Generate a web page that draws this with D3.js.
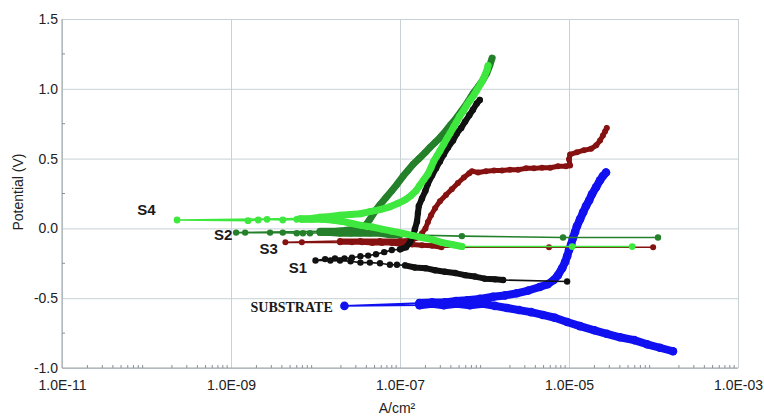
<!DOCTYPE html>
<html>
<head>
<meta charset="utf-8">
<script src="https://cdn.jsdelivr.net/npm/d3@7"></script>
<style>
    body { margin: 0; background: #fff; }
</style>
</head>
<body>
<svg id="chart" width="764" height="417"></svg>
<script>
// axis ticks
const xTicks = [1e-11, 1e-9, 1e-7, 1e-5, 1e-3];
const xTickLabels = ["1.0E-11", "1.0E-09", "1.0E-07", "1.0E-05", "1.0E-03"];
const yTicks = [-1.0, -0.5, 0.0, 0.5, 1.0, 1.5];
const yMinorTicks = [-0.75, -0.25, 0.25, 0.75, 1.25];

// each series: [current density A/cm2, potential V]
// tail = stray points at the start of the scan, tip = sparse points near Ecorr
const subCathodic = [[1.7e-4,-0.88],[1.19e-4,-0.855],[8.4e-5,-0.83],[5.9e-5,-0.80],[4.0e-5,-0.78],[2.8e-5,-0.755],[2.0e-5,-0.73],[1.35e-5,-0.70],[9.5e-6,-0.67],[6.8e-6,-0.64],[4.9e-6,-0.62],[3.55e-6,-0.60],[2.56e-6,-0.585],[1.85e-6,-0.57],[1.33e-6,-0.555],[9.6e-7,-0.54],[6.7e-7,-0.55],[4.7e-7,-0.54],[3.3e-7,-0.55],[2.4e-7,-0.54],[1.7e-7,-0.55]];
const subTip = [[2.2e-8,-0.555]];
const subAnodic = [[1.7e-7,-0.535],[2.4e-7,-0.53],[3.4e-7,-0.53],[4.6e-7,-0.52],[6.2e-7,-0.515],[8.8e-7,-0.505],[1.26e-6,-0.49],[1.75e-6,-0.48],[2.4e-6,-0.465],[3.3e-6,-0.445],[4.5e-6,-0.42],[5.6e-6,-0.40],[6.6e-6,-0.37],[7.4e-6,-0.335],[8.3e-6,-0.285],[9.0e-6,-0.24],[9.5e-6,-0.20],[1.0e-5,-0.155],[1.06e-5,-0.115],[1.11e-5,-0.07],[1.18e-5,-0.025],[1.24e-5,0.015],[1.35e-5,0.065],[1.47e-5,0.115],[1.59e-5,0.16],[1.73e-5,0.20],[1.87e-5,0.245],[2.09e-5,0.295],[2.33e-5,0.345],[2.52e-5,0.375],[2.74e-5,0.40]];

const s1Tail = [[9.5e-6,-0.38]];
const s1Cathodic = [[1.66e-6,-0.37],[1.33e-6,-0.365],[1.01e-6,-0.36],[7.7e-7,-0.345],[5.9e-7,-0.335],[4.5e-7,-0.32],[3.4e-7,-0.31],[2.6e-7,-0.30],[2.0e-7,-0.285],[1.5e-7,-0.28],[1.15e-7,-0.265]];
const s1Tip = [[9.2e-8,-0.26],[7.6e-8,-0.26],[5.8e-8,-0.25],[4.4e-8,-0.245],[3.4e-8,-0.245],[2.6e-8,-0.235],[1.95e-8,-0.23],[1.5e-8,-0.23],[1.0e-8,-0.23],[1.3e-8,-0.22],[1.7e-8,-0.215],[2.2e-8,-0.215],[2.7e-8,-0.21],[3.4e-8,-0.20],[4.2e-8,-0.195],[5.2e-8,-0.185],[6.5e-8,-0.17],[8.0e-8,-0.155]];
const s1Anodic = [[1.0e-7,-0.15],[1.18e-7,-0.135],[1.31e-7,-0.10],[1.43e-7,-0.055],[1.5e-7,-0.005],[1.59e-7,0.05],[1.63e-7,0.11],[1.67e-7,0.16],[1.82e-7,0.215],[2.0e-7,0.27],[2.14e-7,0.32],[2.4e-7,0.38],[2.67e-7,0.43],[2.97e-7,0.48],[3.3e-7,0.53],[3.7e-7,0.58],[4.24e-7,0.63],[4.7e-7,0.68],[5.3e-7,0.72],[5.9e-7,0.765],[6.6e-7,0.81],[7.3e-7,0.85],[8.1e-7,0.895],[8.8e-7,0.92]];

const s3Tail = [[9.9e-5,-0.135],[5.8e-6,-0.135]];
const s3Cathodic = [[3.1e-7,-0.135],[2.4e-7,-0.125],[1.82e-7,-0.12],[1.39e-7,-0.115],[1.06e-7,-0.115],[8.0e-8,-0.105],[6.1e-8,-0.105],[4.7e-8,-0.105],[3.55e-8,-0.10],[2.7e-8,-0.10],[1.95e-8,-0.10]];
const s3Tip = [[6.9e-9,-0.10],[4.4e-9,-0.10]];
const s3Anodic = [[1.95e-8,-0.09],[3.4e-8,-0.09],[5.8e-8,-0.09],[1.0e-7,-0.09],[1.39e-7,-0.085],[1.63e-7,-0.065],[1.82e-7,-0.035],[2.0e-7,0.0],[2.14e-7,0.045],[2.33e-7,0.095],[2.6e-7,0.145],[2.97e-7,0.195],[3.5e-7,0.24],[4.1e-7,0.28],[4.85e-7,0.325],[5.7e-7,0.365],[6.6e-7,0.395],[7.1e-7,0.41],[8.4e-7,0.40],[1.04e-6,0.41],[1.3e-6,0.415],[1.61e-6,0.415],[2.0e-6,0.42],[2.5e-6,0.42],[3.1e-6,0.43],[3.85e-6,0.43],[4.8e-6,0.435],[6.0e-6,0.435],[7.4e-6,0.445],[9.2e-6,0.445],[1.03e-5,0.45],[1.0e-5,0.495],[1.03e-5,0.53],[1.24e-5,0.545],[1.5e-5,0.56],[1.82e-5,0.57],[2.1e-5,0.595],[2.33e-5,0.63],[2.52e-5,0.665],[2.67e-5,0.695],[2.8e-5,0.72]];

const s2Tail = [[1.13e-4,-0.065],[8.5e-6,-0.065],[5.4e-7,-0.055]];
const s2Cathodic = [[1.0e-7,-0.045],[7.6e-8,-0.045],[5.8e-8,-0.035],[4.4e-8,-0.035],[3.4e-8,-0.035],[2.6e-8,-0.035],[1.95e-8,-0.035],[1.5e-8,-0.03],[1.13e-8,-0.03]];
const s2Tip = [[8.6e-9,-0.035],[7.1e-9,-0.035],[6.0e-9,-0.035],[4.1e-9,-0.03],[2.9e-9,-0.03],[1.47e-9,-0.03],[1.15e-9,-0.03]];
const s2Anodic = [[1.13e-8,-0.02],[1.7e-8,-0.02],[2.2e-8,-0.015],[2.9e-8,-0.005],[3.55e-8,0.0],[4.0e-8,0.03],[4.4e-8,0.065],[5.1e-8,0.125],[5.8e-8,0.17],[6.8e-8,0.22],[8.0e-8,0.27],[9.2e-8,0.315],[1.09e-7,0.375],[1.24e-7,0.415],[1.43e-7,0.46],[1.68e-7,0.50],[2.0e-7,0.545],[2.26e-7,0.58],[2.6e-7,0.615],[2.97e-7,0.65],[3.5e-7,0.70],[4.0e-7,0.745],[4.7e-7,0.795],[5.4e-7,0.845],[6.4e-7,0.91],[7.3e-7,0.965],[8.4e-7,1.015],[9.6e-7,1.065],[1.07e-6,1.115],[1.16e-6,1.17],[1.23e-6,1.22]];

const s4Tail = [[5.6e-5,-0.13],[1.09e-5,-0.13]];
const s4Cathodic = [[5.4e-7,-0.13],[4.1e-7,-0.115],[3.1e-7,-0.10],[2.4e-7,-0.08],[1.82e-7,-0.065],[1.39e-7,-0.05],[1.06e-7,-0.035],[8.0e-8,-0.02],[6.1e-8,-0.005],[4.7e-8,0.01],[3.55e-8,0.02],[2.7e-8,0.035],[2.06e-8,0.05],[1.57e-8,0.06],[1.19e-8,0.065],[9.1e-9,0.065],[6.9e-9,0.065]];
const s4Tip = [[6.0e-9,0.065],[4.1e-9,0.06],[2.67e-9,0.065],[2.1e-9,0.06],[1.59e-9,0.055],[2.3e-10,0.06]];
const s4Anodic = [[6.6e-9,0.07],[8.6e-9,0.07],[1.13e-8,0.08],[1.5e-8,0.085],[1.95e-8,0.095],[2.6e-8,0.10],[3.4e-8,0.105],[4.4e-8,0.12],[5.8e-8,0.135],[7.6e-8,0.155],[9.5e-8,0.18],[1.15e-7,0.205],[1.35e-7,0.235],[1.55e-7,0.27],[1.7e-7,0.305],[1.92e-7,0.35],[2.14e-7,0.39],[2.33e-7,0.435],[2.5e-7,0.48],[2.74e-7,0.52],[2.97e-7,0.555],[3.3e-7,0.605],[3.6e-7,0.645],[3.9e-7,0.68],[4.35e-7,0.73],[4.7e-7,0.765],[5.1e-7,0.805],[5.6e-7,0.84],[6.2e-7,0.885],[6.7e-7,0.915],[7.5e-7,0.955],[8.1e-7,0.99],[9.1e-7,1.04],[9.9e-7,1.085],[1.07e-6,1.135],[1.1e-6,1.165]];

// label anchor points (data coords)
const labelNames = ["S4", "S2", "S3", "S1", "SUBSTRATE"];
const labelAt = [[1.0e-10, 0.093], [8.1e-10, -0.085], [2.8e-9, -0.18], [6.2e-9, -0.32], [1.6e-8, -0.60]];

const series = [
    { tail: [], cathodic: subCathodic, tip: subTip, anodic: subAnodic, color: "#1010f0", band: 8, r: 4.3 },
    { tail: s3Tail, cathodic: s3Cathodic, tip: s3Tip, anodic: s3Anodic, color: "#861111", band: 5, r: 3 },
    { tail: s1Tail, cathodic: s1Cathodic, tip: s1Tip, anodic: s1Anodic, color: "#111111", band: 6, r: 3.2 },
    { tail: s2Tail, cathodic: s2Cathodic, tip: s2Tip, anodic: s2Anodic, color: "#24802a", band: 7, r: 3.2 },
    { tail: s4Tail, cathodic: s4Cathodic, tip: s4Tip, anodic: s4Anodic, color: "#3fe83f", band: 7, r: 3.4 },
];

const sansFont = "Arial, 'Liberation Sans', sans-serif";
const serifFont = "'Times New Roman', 'Liberation Serif', serif";

const svg = d3.select("#chart");
const plotLeft = 62, plotRight = 738, plotTop = 19, plotBottom = 368;

const x = d3.scaleLog().domain([1e-11, 1e-3]).range([plotLeft, plotRight]);
const y = d3.scaleLinear().domain([-1, 1.5]).range([plotBottom, plotTop]);

// grid
const gridColor = "#c8d2d5";
const gx = svg.append("g")
    .attr("transform", `translate(0,${plotBottom})`)
    .call(d3.axisBottom(x).tickValues(xTicks).tickSize(-(plotBottom - plotTop)).tickFormat(""));
gx.select(".domain").remove();
gx.selectAll("line").attr("stroke", gridColor);

const gy = svg.append("g")
    .attr("transform", `translate(${plotLeft},0)`)
    .call(d3.axisLeft(y).tickValues(yTicks).tickSize(-(plotRight - plotLeft)).tickFormat(""));
gy.select(".domain").remove();
gy.selectAll("line").attr("stroke", gridColor);

// axis lines
svg.append("line").attr("x1", plotLeft).attr("x2", plotLeft).attr("y1", plotTop).attr("y2", plotBottom)
    .attr("stroke", "#9aa2a5");
svg.append("line").attr("x1", plotLeft).attr("x2", plotRight).attr("y1", plotBottom).attr("y2", plotBottom)
    .attr("stroke", "#9aa2a5");

// minor ticks
svg.append("g").selectAll("line").data(yMinorTicks).join("line")
    .attr("x1", plotLeft).attr("x2", plotLeft + 3)
    .attr("y1", d => y(d)).attr("y2", d => y(d))
    .attr("stroke", "#8a9295");
const xMinor = [];
for (let e = -11; e < -3; e++) for (let m = 2; m <= 9; m++) xMinor.push(m * Math.pow(10, e));
svg.append("g").selectAll("line").data(xMinor).join("line")
    .attr("x1", d => x(d)).attr("x2", d => x(d))
    .attr("y1", plotBottom).attr("y2", plotBottom - 3)
    .attr("stroke", "#8a9295");

// tick labels
const xAxis = svg.append("g")
    .attr("transform", `translate(0,${plotBottom})`)
    .call(d3.axisBottom(x).tickValues(xTicks).tickSize(0).tickPadding(12)
        .tickFormat((d, i) => xTickLabels[i]));
xAxis.select(".domain").remove();
xAxis.selectAll("text").style("font-size", "14px").style("font-family", sansFont).attr("fill", "#222");

const yAxis = svg.append("g")
    .attr("transform", `translate(${plotLeft},0)`)
    .call(d3.axisLeft(y).tickValues(yTicks).tickSize(0).tickPadding(4)
        .tickFormat(d => d.toFixed(1)));
yAxis.select(".domain").remove();
yAxis.selectAll("text").style("font-size", "14px").style("font-family", sansFont).attr("fill", "#222");

// axis titles
svg.append("text")
    .attr("transform", "translate(23,192) rotate(-90)")
    .attr("text-anchor", "middle")
    .style("font-size", "14px").style("font-family", sansFont)
    .attr("fill", "#222")
    .text("Potential (V)");
svg.append("text")
    .attr("x", 397).attr("y", 413)
    .attr("text-anchor", "middle")
    .style("font-size", "14px").style("font-family", sansFont)
    .attr("fill", "#222")
    .text("A/cm²");

// curves
const line = d3.line().x(d => x(d[0])).y(d => y(d[1]));

series.forEach(s => {
    const g = svg.append("g");
    const thin = [];
    if (s.tail.length) thin.push([...s.tail, s.cathodic[0]]);
    thin.push([s.cathodic[s.cathodic.length - 1], ...s.tip, s.anodic[0]]);

    g.selectAll("path.thin").data(thin).join("path")
        .attr("class", "thin")
        .attr("d", line)
        .attr("fill", "none")
        .attr("stroke", s.color)
        .attr("stroke-width", 1.6);

    g.selectAll("path.band").data([s.cathodic, s.anodic]).join("path")
        .attr("class", "band")
        .attr("d", line)
        .attr("fill", "none")
        .attr("stroke", s.color)
        .attr("stroke-width", s.band)
        .attr("stroke-linejoin", "round")
        .attr("stroke-linecap", "round");

    g.selectAll("circle")
        .data([...s.tail, ...s.cathodic, ...s.tip, ...s.anodic])
        .join("circle")
        .attr("cx", d => x(d[0]))
        .attr("cy", d => y(d[1]))
        .attr("r", s.r)
        .attr("fill", s.color);
});

// series labels
svg.append("g").selectAll("text").data(labelNames).join("text")
    .attr("x", (d, i) => x(labelAt[i][0]))
    .attr("y", (d, i) => y(labelAt[i][1]))
    .attr("text-anchor", d => d === "SUBSTRATE" ? "end" : "middle")
    .style("font-family", d => d === "SUBSTRATE" ? serifFont : sansFont)
    .style("font-size", d => d === "SUBSTRATE" ? "14px" : "15px")
    .style("font-weight", "bold")
    .attr("fill", "#1a1a1a")
    .text(d => d);
</script>
</body>
</html>
